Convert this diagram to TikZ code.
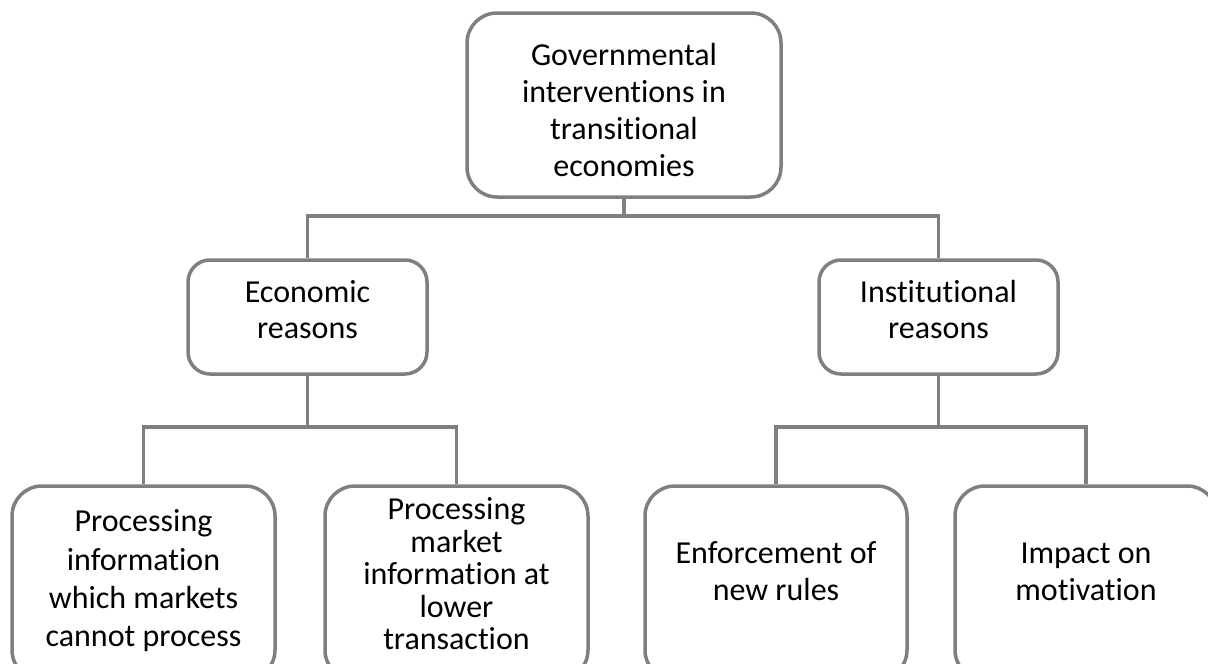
\documentclass[tikz,border=0pt]{standalone}
\usepackage{fontspec}
\setmainfont{Carlito}[Ligatures=NoCommon]
\definecolor{edgegray}{HTML}{7F7F7F}
\begin{document}
\begin{tikzpicture}[x=1pt,y=-1pt,
  box/.style={draw=edgegray, line width=3.5pt, rounded corners=#1, fill=white, inner sep=0pt},
  box/.default=28pt,
  lbl/.style={align=center, inner sep=0pt, font=\fontsize{32}{#1}\selectfont},
  link/.style={draw=edgegray, line width=3.5pt}]
\useasboundingbox (0,0) rectangle (1208,664);
\clip (0,0) rectangle (1208,664);
% boxes
\node[box=30pt, minimum width=314pt, minimum height=184pt] (top) at (624,105) {};
\node[box=22pt, minimum width=239pt, minimum height=114pt] (eco) at (307.5,317) {};
\node[box=22pt, minimum width=239pt, minimum height=114pt] (inst) at (938.5,317) {};
\node[box=30pt, minimum width=263pt, minimum height=194pt] (b1) at (143.5,583) {};
\node[box=30pt, minimum width=263pt, minimum height=194pt] (b2) at (456.5,583) {};
\node[box=30pt, minimum width=262pt, minimum height=194pt] (b3) at (776,583) {};
\node[box=30pt, minimum width=262pt, minimum height=194pt] (b4) at (1086,583) {};
% texts
\node[lbl=37.3] (ttop) at (624,110) {Governmental\\interventions in\\transitional\\economies};
\node[lbl=36] (teco) at (307.5,310) {Economic\\reasons};
\node[lbl=36] (tinst) at (938.5,310) {Institutional\\reasons};
\node[lbl=38.3] (tb1) at (143.5,581) {Processing\\information\\which markets\\cannot process};
\node[lbl=32.5] (tb2) at (456.5,574) {Processing\\market\\information at\\lower\\transaction};
\node[lbl=37] (tb3) at (776,571) {Enforcement of\\new rules};
\node[lbl=37] (tb4) at (1086,572) {Impact on\\motivation};
% junctions
\coordinate (j1) at (624,216);
\coordinate (j2) at (307.5,427);
\coordinate (j3) at (938.5,427);
% connectors
\draw[link] (top.south) -- (j1);
\draw[link] (eco.north) |- (j1) -| (inst.north);
\draw[link] (eco.south) -- (j2);
\draw[link] (b1.north) |- (j2) -| (b2.north);
\draw[link] (inst.south) -- (j3);
\draw[link] (b3.north) |- (j3) -| (b4.north);
\end{tikzpicture}
\end{document}
